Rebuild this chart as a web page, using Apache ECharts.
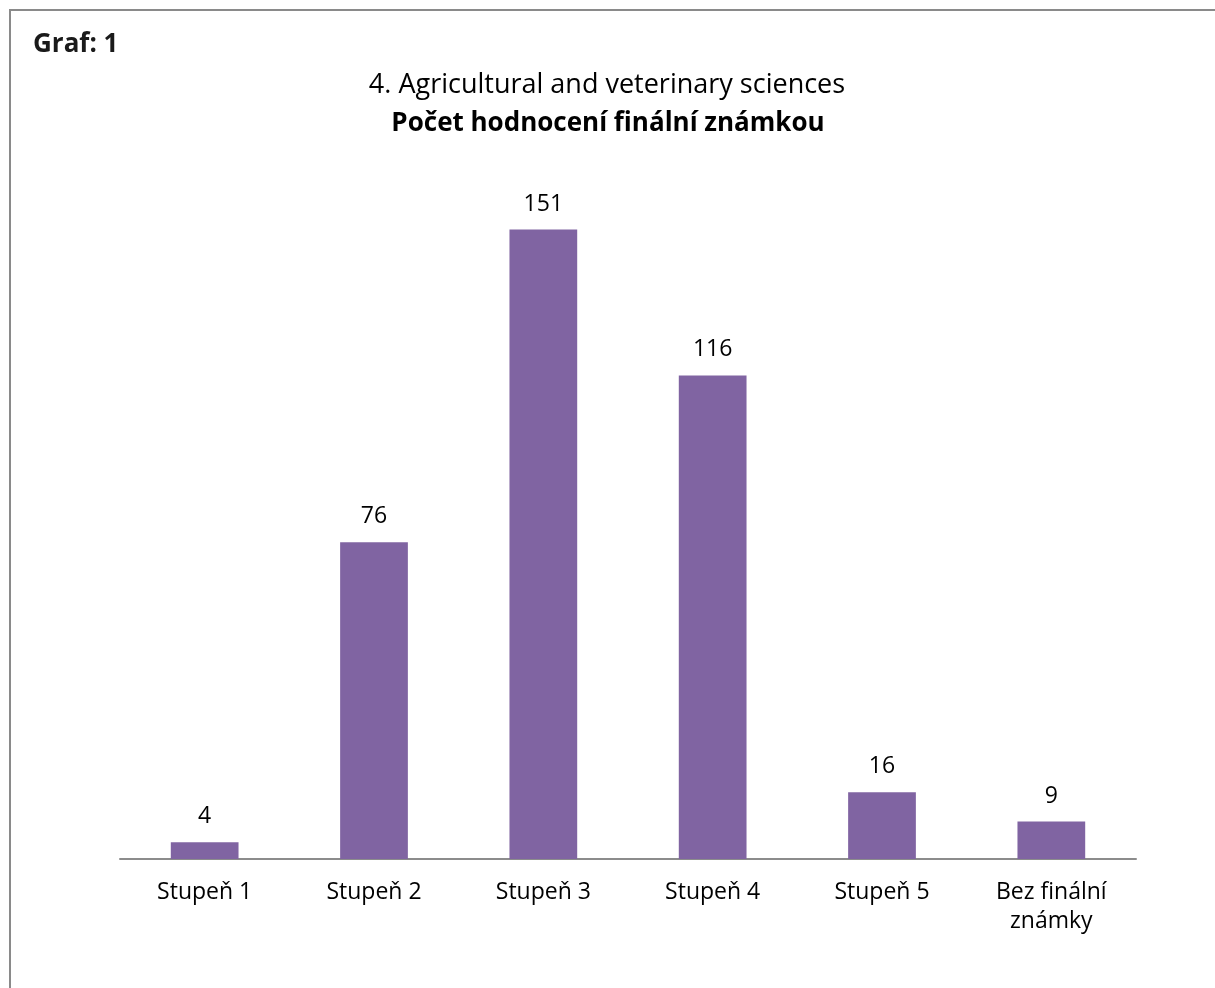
<!DOCTYPE html>
<html><head><meta charset="utf-8">
<script src="https://cdn.jsdelivr.net/npm/echarts@6/dist/echarts.min.js"></script>
<style>
html,body{margin:0;padding:0;background:#fff;}
#frame{position:absolute;left:9px;top:9px;width:1206px;height:979px;border-top:2px solid #8a8a8a;border-left:2px solid #8a8a8a;box-sizing:border-box;}
#c{position:absolute;left:0;top:0;width:1215px;height:988px;}
</style></head>
<body>
<div id="frame"></div>
<div id="c"></div>
<script>
const categories = ['Stupeň 1','Stupeň 2','Stupeň 3','Stupeň 4','Stupeň 5','Bez finální\nznámky'];
const values = [4, 76, 151, 116, 16, 9];
const titleLine1 = '4. Agricultural and veterinary sciences';
const titleLine2 = 'Počet hodnocení finální známkou';
const chartTag = 'Graf: 1';

const FONT = '"Open Sans", "Noto Sans", sans-serif';
const chart = echarts.init(document.getElementById('c'), null, {renderer:'canvas'});
chart.setOption({
  backgroundColor: 'transparent',
  animation: false,
  title: [
    {text: chartTag, left: 28, top: 26.5, textStyle:{fontFamily:FONT, fontSize:26, lineHeight:26, fontWeight:'bold', color:'#1a1a1a'}},
    {text: titleLine1, left: 602, top: 67, textAlign:'center', textStyle:{fontFamily:FONT, fontSize:27, lineHeight:27, fontWeight:'normal', color:'#000'}},
    {text: titleLine2, left: 603, top: 106, textAlign:'center', textStyle:{fontFamily:FONT, fontSize:26, lineHeight:26, fontWeight:'bold', color:'#000'}}
  ],
  grid: {left: 120, right: 79, top: 192, bottom: 129, containLabel:false},
  xAxis: {
    type:'category', data: categories,
    axisLine:{lineStyle:{color:'#8c8c8c', width:2}},
    axisTick:{show:false},
    axisLabel:{fontFamily:FONT, fontSize:23, color:'#000', margin:19, lineHeight:29, interval:0}
  },
  yAxis: {type:'value', min:0, max:160, show:false, splitLine:{show:false}},
  series: [{
    type:'bar', data: values, barWidth:'40%',
    itemStyle:{color:'#8064a2'},
    label:{show:true, position:'top', distance:14, fontFamily:FONT, fontSize:23, lineHeight:23, color:'#000'}
  }]
});
</script>
</body></html>
